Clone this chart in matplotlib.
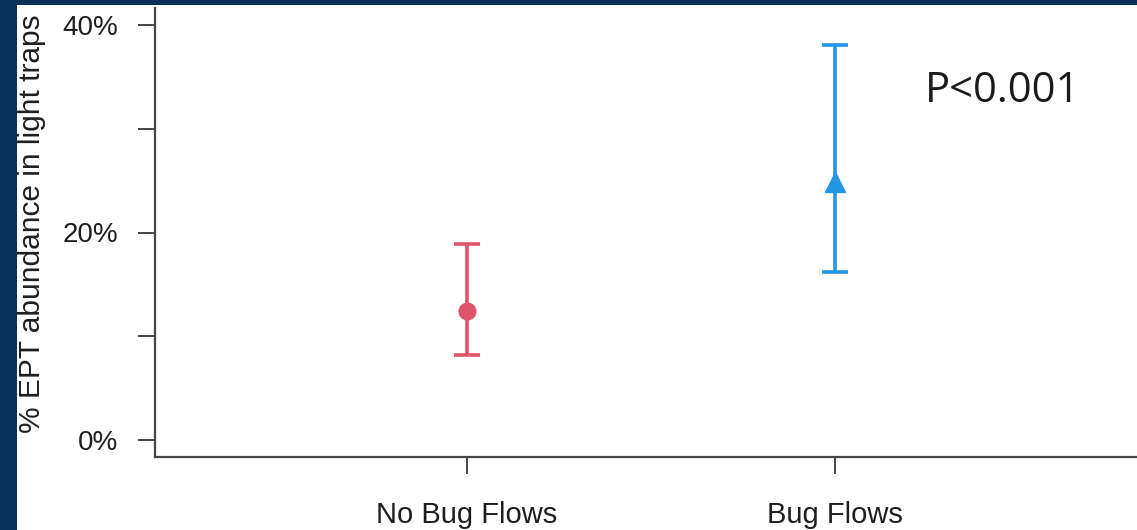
import matplotlib.pyplot as plt
from matplotlib.patches import Rectangle

groups = ["No Bug Flows", "Bug Flows"]
means = [12.4, 24.9]
lower = [8.2, 16.2]
upper = [18.9, 38.0]
colors = ["#DF536B", "#2297E6"]
markers = ["o", "^"]
marker_sizes = [12, 15]

W, H = 1137, 530
fig = plt.figure(figsize=(W / 100, H / 100), dpi=100)
fig.patch.set_facecolor("#08305C")
fig.patches.append(Rectangle((17 / W, 0), 1, 1 - 5 / H, transform=fig.transFigure,
                             facecolor="white", edgecolor="none", zorder=-5))

ax = fig.add_axes([155 / W, 73 / H, (1148 - 155) / W, 449 / H])
ax.set_facecolor("none")

xs = [1, 2]
for x, m, lo, hi, c, mk, ms in zip(xs, means, lower, upper, colors, markers, marker_sizes):
    ax.errorbar(x, m, yerr=[[m - lo], [hi - m]], fmt=mk, color=c, ms=ms,
                elinewidth=2.6, capsize=9.5, capthick=2.6, clip_on=False)

ax.set_xlim(0.152, 2.85)
ax.set_ylim(-1.6, 41.6)
ax.set_xticks(xs)
ax.set_xticklabels(groups)
ax.set_yticks([0, 10, 20, 30, 40])
ax.set_yticklabels(["0%", "", "20%", "", "40%"])

for s in ["top", "right"]:
    ax.spines[s].set_visible(False)
for s in ["left", "bottom"]:
    ax.spines[s].set_color("#444444")
    ax.spines[s].set_linewidth(1.6)

ax.tick_params(axis="both", length=12.5, width=1.4, color="#444444",
               labelsize=20, labelcolor="#1e1e1e")
ax.tick_params(axis="y", pad=14)
ax.tick_params(axis="x", pad=19, labelsize=21)
for lab in ax.get_xticklabels() + ax.get_yticklabels():
    lab.set_family("Liberation Sans")

ax.set_ylabel("% EPT abundance in light traps", fontsize=21.5, family="Liberation Sans",
              color="#1e1e1e")
ax.yaxis.set_label_coords(-109 / (1148 - 155), 0.52)

ax.text(2.245, 32.6, "P<0.001", fontsize=30, family="Open Sans", color="#1a1a1a",
        ha="left", va="baseline")

fig.savefig("out.png", dpi=100)
